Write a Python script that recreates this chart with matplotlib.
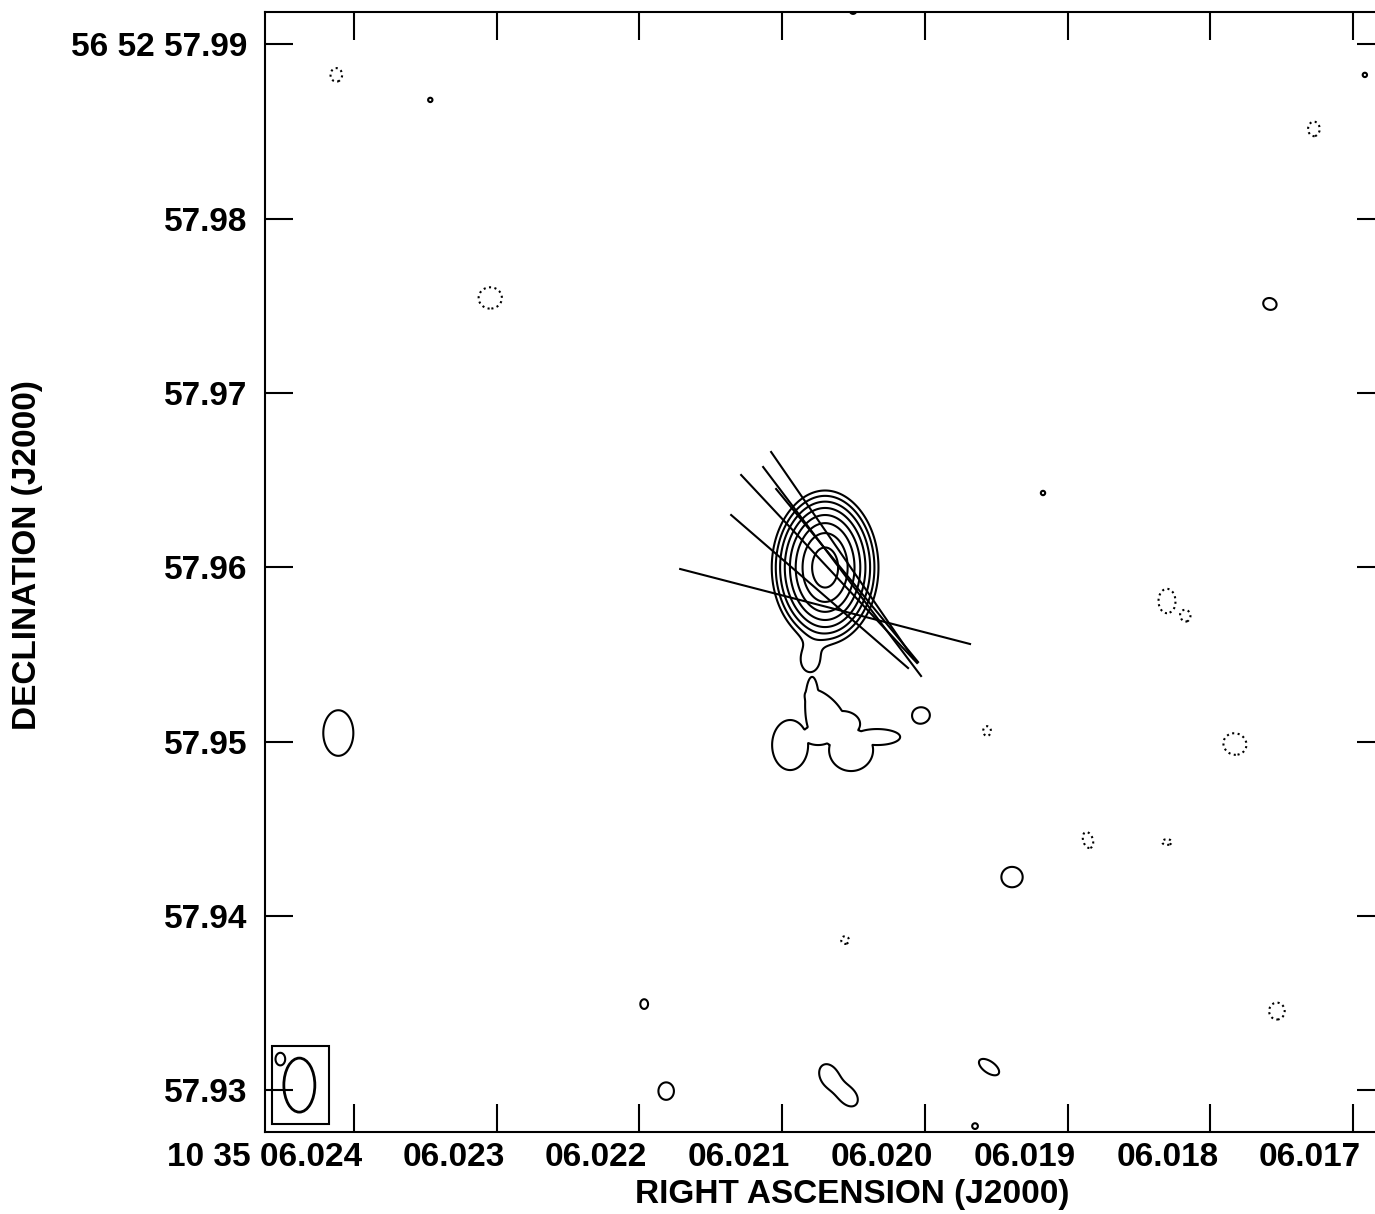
import numpy as np
import matplotlib.pyplot as plt
from matplotlib.patches import Ellipse, Rectangle
from matplotlib.transforms import ScaledTranslation

plt.rcParams['font.family'] = ['Liberation Sans', 'DejaVu Sans']
plt.rcParams['font.weight'] = 'bold'

# map centre: 10 35 06.0205  +56 52 57.960
RA0 = 6.0205
DEC0 = 57.96
COSD = np.cos(np.radians(56 + 52 / 60 + 57.96 / 3600))
S_PER_MAS = 1.0 / (1000 * 15 * COSD)

# compact components (offsets east/north in mas, peak in units of lowest contour,
# sigma along angle, sigma across, angle in deg)
comp_x = [1.633, 1.633,
          29.587, -3.877, -9.101, 10.760, 1.403, 0.255, -7.781, 12.022, -6.977,
          -23.910, 24.306, -10.880, -29.363, 0.026, 32.916,
          29.702, 20.862, -26.436, -17.998, -19.088, -21.901, -7.666, -13.463,
          -17.998, 0.485, -24.312]
comp_y = [-0.014, -0.014,
          -9.514, -8.481, -17.780, -30.063, -29.202, -30.408, -28.686, -25.069, -32.072,
          15.111, 26.820, 4.262, 28.255, 31.95, -28.226,
          28.255, 15.455, 25.156, -1.937, -2.798, -10.145, -9.399, -15.656,
          -15.771, -21.396, -25.471]
comp_amp = [101, 82,
            1.6, 1.6, 1.6, 1.6, 1.5, 1.5, 1.6, 1.6, 1.6,
            1.6, 1.6, 1.6, 1.6, 1.6, 1.6,
            -1.6, -1.6, -1.6, -1.6, -1.5, -1.6, -1.6, -1.6,
            -1.6, -1.6, -1.6]
comp_sa = [1.005, 0.769,
           0.890, 0.517, 0.631, 0.459, 0.804, 0.631, 0.689, 0.23, 0.17,
           0.402, 0.13, 0.13, 0.13, 0.2, 0.287,
           0.344, 0.689, 0.344, 0.50, 0.28, 0.689, 0.23, 0.488,
           0.287, 0.23, 0.46]
comp_sb = [1.406, 1.309,
           1.349, 0.459, 0.603, 0.517, 0.574, 0.459, 0.344, 0.287, 0.17,
           0.344, 0.13, 0.13, 0.13, 0.2, 0.373,
           0.402, 0.631, 0.430, 0.72, 0.34, 0.631, 0.287, 0.287,
           0.17, 0.23, 0.50]
comp_ang = [0, 0,
            0, 0, 0, 0, 62, 50, 35, 0, 0,
            20, 0, 0, 0, 0, 0,
            0, 0, 0, 0, 0, 20, 0, 73,
            0, 0, 0]

# faint extended emission south of the core (tail + diffuse patch)
diff_x = [2.494, 3.642, 2.379, 1.633, 0.657, 2.035, 0.141, 2.035, -1.352, 1.231]
diff_y = [-5.324, -10.203, -7.907, -8.136, -8.997, -8.768, -10.490, -9.629, -9.744, -9.744]
diff_amp = [1.5, 1.5, 1.5, 1.5, 1.5, 1.5, 1.5, 1.5, 1.5, 1.5]
diff_sa = [0.574, 1.148, 0.446, 1.658, 1.148, 0.638, 1.403, 1.020, 1.467, 0.510]
diff_sb = [0.765, 1.595, 1.786, 0.765, 0.829, 0.638, 1.339, 0.638, 0.510, 0.510]
diff_ang = [0, 0, 0, 44, 0, 0, 0, 0, 0, 0]

levels = [-1, 1, 2, 4, 8, 16, 32, 64, 128]

# position-angle lines (mas offsets, start / end)
line_x1 = [9.956, 7.029, 6.455, 5.192, 4.733, 4.446]
line_y1 = [-0.100, 2.999, 5.295, 5.754, 6.615, 4.492]
line_x2 = [-6.690, -3.131, -3.648, -3.877, -3.418, -3.705]
line_y2 = [-4.405, -5.783, -5.496, -6.242, -5.209, -5.439]

# beam (FWHM, mas)
beam_maj = 3.10
beam_min = 1.78

ra_ticks = [6.024, 6.023, 6.022, 6.021, 6.020, 6.019, 6.018, 6.017]
ra_labels = ['10 35 06.024', '06.023', '06.022', '06.021', '06.020',
             '06.019', '06.018', '06.017']
dec_ticks = [57.93, 57.94, 57.95, 57.96, 57.97, 57.98, 57.99]
dec_labels = ['57.93', '57.94', '57.95', '57.96', '57.97', '57.98', '56 52 57.99']


def gauss(X, Y, x0, y0, a, sa, sb, ang):
    t = np.radians(ang)
    dx = X - x0
    dy = Y - y0
    u = dx * np.cos(t) + dy * np.sin(t)
    v = -dx * np.sin(t) + dy * np.cos(t)
    return a * np.exp(-0.5 * ((u / sa) ** 2 + (v / sb) ** 2))


# build model image
gx = np.arange(-31.0, 34.5, 0.05)
gy = np.arange(-33.0, 33.0, 0.05)
X, Y = np.meshgrid(gx, gy)
img = np.zeros_like(X)
for p in zip(comp_x, comp_y, comp_amp, comp_sa, comp_sb, comp_ang):
    img += gauss(X, Y, *p)
diffuse = np.zeros_like(X)
for p in zip(diff_x, diff_y, diff_amp, diff_sa, diff_sb, diff_ang):
    diffuse = np.maximum(diffuse, gauss(X, Y, *p))
img += diffuse

RA = RA0 + X * S_PER_MAS
DEC = DEC0 + Y / 1000.0

fig = plt.figure(figsize=(13.75, 12.14), dpi=100)
ax = fig.add_axes([265 / 1375, 82 / 1214, 1120 / 1375, 1120 / 1214])

ax.contour(RA, DEC, img, levels=levels, colors='black', linewidths=1.5,
           linestyles=[':'] + ['-'] * (len(levels) - 1))

for x1, y1, x2, y2 in zip(line_x1, line_y1, line_x2, line_y2):
    ax.plot([RA0 + x1 * S_PER_MAS, RA0 + x2 * S_PER_MAS],
            [DEC0 + y1 / 1000, DEC0 + y2 / 1000], color='black', lw=1.5)

# beam and its box
bx, by = 31.825, -29.719
ax.add_patch(Ellipse((RA0 + bx * S_PER_MAS, DEC0 + by / 1000),
                     beam_min * S_PER_MAS, beam_maj / 1000,
                     fill=False, ec='black', lw=2))
ax.add_patch(Rectangle((RA0 + 33.375 * S_PER_MAS, DEC0 - 31.957 / 1000),
                       (30.103 - 33.375) * S_PER_MAS, 4.477 / 1000,
                       fill=False, ec='black', lw=1.5))

ax.set_xlim(6.024624, 6.016776)
ax.set_ylim(57.92759, 57.991865)

ax.set_xticks(ra_ticks)
ax.set_xticklabels(ra_labels)
ax.set_yticks(dec_ticks)
ax.set_yticklabels(dec_labels)
ax.tick_params(direction='in', length=20, width=1.5, top=True, right=True,
               labelsize=24)
ax.tick_params(axis='x', pad=7)
ax.tick_params(axis='y', pad=13)
for s in ax.spines.values():
    s.set_linewidth(1.5)

off = ScaledTranslation(8 / 100, 0, fig.dpi_scale_trans)
for lab in ax.get_xticklabels():
    lab.set_horizontalalignment('right')
    lab.set_transform(lab.get_transform() + off)

fig.text(852 / 1375, 1 - 1195 / 1214, 'RIGHT ASCENSION (J2000)', ha='center',
         va='center', fontsize=24, fontweight='bold')
fig.text(28 / 1375, 1 - 555 / 1214, 'DECLINATION (J2000)', ha='center',
         va='center', rotation=90, fontsize=24, fontweight='bold')

fig.savefig('out.png', dpi=100)
